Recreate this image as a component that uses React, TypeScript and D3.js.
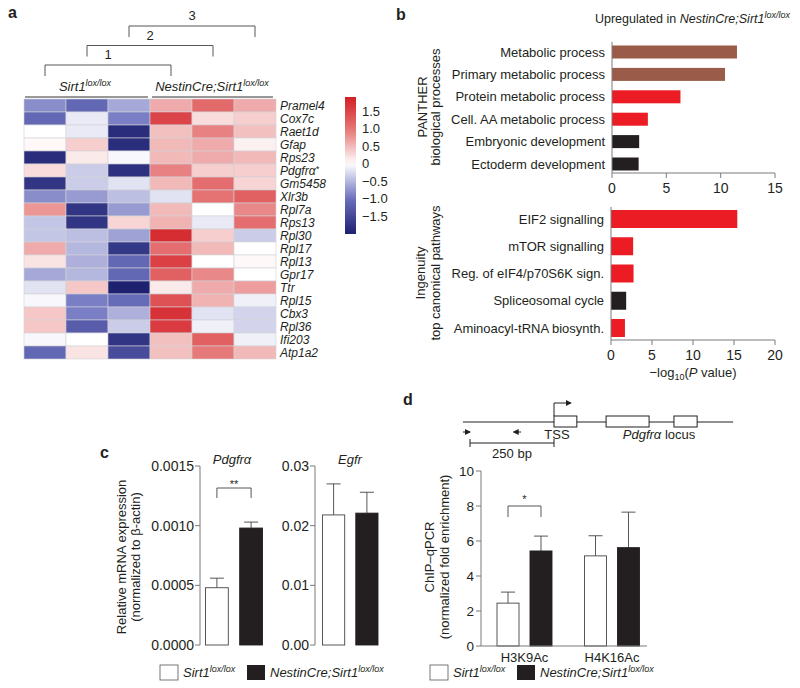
import React from "react";
import * as d3 from "d3";

const FONT = "'Liberation Sans', Arial, Helvetica, sans-serif";
const INK = "#231f20";
const AXIS = "#7a7a7d";

// ---- a: heatmap ----
const samples = ["ctl1", "ctl2", "ctl3", "ko1", "ko2", "ko3"];
const genes = [
  "Pramel4", "Cox7c", "Raet1d", "Gfap", "Rps23", "Pdgfra", "Gm5458", "Xlr3b", "Rpl7a", "Rps13",
  "Rpl30", "Rpl17", "Rpl13", "Gpr17", "Ttr", "Rpl15", "Cbx3", "Rpl36", "Ifi203", "Atp1a2",
];
const heat = [
  [-0.8, -1.1, -0.6, 0.6, 1.1, 0.6],
  [-1.1, -0.15, -0.9, 1.5, 0.25, 0.35],
  [0.0, -0.15, -1.85, 0.45, 0.9, 0.45],
  [0.05, 0.35, -1.85, 0.5, 0.6, 0.1],
  [-1.85, 0.15, -0.05, 0.5, 0.6, 0.5],
  [0.25, -0.35, -1.8, 0.9, 0.35, 0.35],
  [-1.75, -0.35, -0.2, 0.5, 1.05, 0.3],
  [-0.8, -0.7, -0.45, -0.2, 1.0, 1.2],
  [0.75, -1.75, -0.7, 0.5, 0.0, 0.85],
  [-0.4, -1.75, 0.3, 0.55, -0.15, 1.05],
  [-0.4, -0.45, -0.65, 1.75, 0.35, -0.35],
  [0.6, -0.5, -1.7, 1.05, 0.5, 0.0],
  [0.2, -0.55, -1.1, 1.55, 0.0, 0.05],
  [-0.6, -0.5, -1.1, 1.2, 0.85, 0.0],
  [-0.2, 0.4, -2.0, 0.15, 0.6, 0.7],
  [-0.05, -0.9, -1.05, 1.35, 0.55, -0.1],
  [0.4, -0.9, -0.55, 1.7, -0.2, -0.3],
  [0.4, -1.25, -0.35, 1.6, -0.1, -0.3],
  [-0.05, 0.0, -1.75, 0.45, 1.2, -0.1],
  [-1.1, 0.2, -1.45, 0.45, 0.95, 0.5],
];
const scaleTicks = [-1.5, -1, -0.5, 0, 0.5, 1, 1.5];
const clusters = [
  ["ctl1", "ko1", "1"],
  ["ctl2", "ko2", "2"],
  ["ctl3", "ko3", "3"],
];

// ---- b: enrichment ----
const pantherTerms = [
  "Metabolic process", "Primary metabolic process", "Protein metabolic process",
  "Cell. AA metabolic process", "Embryonic development", "Ectoderm development",
];
const pantherValues = [11.5, 10.4, 6.3, 3.3, 2.5, 2.45];
const pantherColors = ["#9a5b48", "#9a5b48", "#ec1c24", "#ec1c24", "#231f20", "#231f20"];
const ipaTerms = [
  "EIF2 signalling", "mTOR signalling", "Reg. of eIF4/p70S6K sign.",
  "Spliceosomal cycle", "Aminoacyl-tRNA biosynth.",
];
const ipaValues = [15.4, 2.7, 2.75, 1.85, 1.7];
const ipaColors = ["#ec1c24", "#ec1c24", "#ec1c24", "#231f20", "#ec1c24"];

// ---- c: qPCR ----
const groups = ["ctrl", "ko"];
const pdgfraMean = [0.00048, 0.00098];
const pdgfraSem = [0.00008, 0.00005];
const egfrMean = [0.0218, 0.0221];
const egfrSem = [0.0052, 0.0035];

// ---- d: ChIP ----
const chipMarks = ["H3K9Ac", "H4K16Ac"];
const chipCtrl = [2.45, 5.15];
const chipCtrlSem = [0.63, 1.15];
const chipKo = [5.43, 5.62];
const chipKoSem = [0.85, 2.03];
const locusExons = [[0, 68], [155, 283], [357, 426]];

const heatColor = d3
  .scaleLinear<string>()
  .domain([-2, -1, 0, 1, 1.9])
  .range(["#1d2170", "#6b70bd", "#ffffff", "#e57373", "#d31f26"])
  .clamp(true);

const minus = (s: string) => s.replace("-", "\u2212");

function Lox({ x, y, anchor = "start", size = 13 }: any) {
  return (
    <text x={x} y={y} textAnchor={anchor} fontSize={size} fontStyle="italic" fill={INK}>
      Sirt1<tspan fontSize={9} dy={-5}>lox/lox</tspan>
    </text>
  );
}
function NestinLox({ x, y, anchor = "start", size = 13 }: any) {
  return (
    <text x={x} y={y} textAnchor={anchor} fontSize={size} fontStyle="italic" fill={INK}>
      NestinCre;Sirt1<tspan fontSize={9} dy={-5}>lox/lox</tspan>
    </text>
  );
}

function Legend({ x, y }: any) {
  return (
    <g>
      <rect x={x} y={y} width={18} height={15} fill="#fff" stroke="#555" strokeWidth={0.8} />
      <Lox x={x + 23} y={y + 12} />
      <rect x={x + 87} y={y} width={18} height={15} fill={INK} />
      <NestinLox x={x + 110} y={y + 12} />
    </g>
  );
}

function Heatmap() {
  const x = d3.scaleBand().domain(samples).range([24, 276]);
  const y = d3.scaleBand().domain(genes).range([99, 359]);
  const bw = x.bandwidth();
  const cy = d3.scaleLinear().domain([-2, 1.9]).range([234, 97]);
  const stops = d3.range(0, 1.0001, 0.05);
  return (
    <g>
      <defs>
        <linearGradient id="cbar" x1="0" y1="1" x2="0" y2="0">
          {stops.map((t) => (
            <stop key={t} offset={t} stopColor={heatColor(-2 + t * 3.9)} />
          ))}
        </linearGradient>
      </defs>
      {heat.map((row, i) =>
        row.map((v, j) => (
          <rect key={`${i}-${j}`} x={x(samples[j])} y={y(genes[i])} width={bw}
            height={y.bandwidth()} fill={heatColor(v)} stroke="#d2d2d8" strokeWidth={0.6} />
        ))
      )}
      {genes.map((g) => (
        <text key={g} x={280} y={(y(g) as number) + y.bandwidth() / 2 + 4.3}
          fontSize={12} fontStyle="italic" fill={INK}>
          {g === "Pdgfra" ? (<>Pdgfrα<tspan fontSize={9} dy={-3}>*</tspan></>) : g}
        </text>
      ))}
      {clusters.map(([a, b, lab], i) => {
        const top = 65 - i * 19.5;
        const xa = (x(a) as number) + bw / 2;
        const xb = (x(b) as number) + bw / 2;
        return (
          <g key={lab}>
            <path d={`M${xa},${top + 11}V${top}H${xb}V${top + 11}`} fill="none" stroke="#444" strokeWidth={0.9} />
            <text x={(xa + xb) / 2} y={top - 6} textAnchor="middle" fontSize={13} fill={INK}>{lab}</text>
          </g>
        );
      })}
      <Lox x={85} y={91} anchor="middle" />
      <NestinLox x={212} y={91} anchor="middle" />
      <line x1={(x("ctl1") as number) + 1} x2={(x("ctl3") as number) + bw - 2} y1={97} y2={97} stroke="#333" strokeWidth={1} />
      <line x1={(x("ko1") as number) + 2} x2={(x("ko3") as number) + bw - 3} y1={97} y2={97} stroke="#333" strokeWidth={1} />
      <rect x={345} y={97} width={11} height={137} fill="url(#cbar)" />
      {scaleTicks.map((t) => (
        <text key={t} x={362} y={cy(t) + 4.5} fontSize={13} fill={INK}>
          {t === 0 ? "0" : minus(d3.format(".1f")(t))}
        </text>
      ))}
    </g>
  );
}

function HBars({ terms, values, colors, x, y, barH, axisTop, axisY, ticks }: any) {
  const x0 = x(0);
  return (
    <g>
      {terms.map((t: string, i: number) => (
        <g key={t}>
          <rect x={x0} y={y(t) - barH / 2} width={x(values[i]) - x0} height={barH} fill={colors[i]} />
          <text x={x0 - 7} y={y(t) + 4.5} textAnchor="end" fontSize={13} fill={INK}>{t}</text>
        </g>
      ))}
      <line x1={x0} x2={x0} y1={axisTop} y2={axisY} stroke={AXIS} strokeWidth={1} />
      <line x1={x0} x2={x.range()[1]} y1={axisY} y2={axisY} stroke={AXIS} strokeWidth={1} />
      {ticks.map((t: number) => (
        <g key={t}>
          <line x1={x(t)} x2={x(t)} y1={axisY} y2={axisY + 5} stroke={AXIS} />
          <text x={x(t)} y={axisY + 20} textAnchor="middle" fontSize={14} fill={INK}>{t}</text>
        </g>
      ))}
    </g>
  );
}

function PanelB() {
  const xP = d3.scaleLinear().domain([0, 15]).range([612, 775]);
  const yP = d3.scalePoint().domain(pantherTerms).range([52, 164]);
  const xI = d3.scaleLinear().domain([0, 20]).range([611, 775]);
  const yI = d3.scalePoint().domain(ipaTerms).range([219, 328]);
  return (
    <g>
      <text x={790} y={23} textAnchor="end" fontSize={12.5} fill={INK}>
        Upregulated in <tspan fontStyle="italic">NestinCre;Sirt1</tspan>
        <tspan fontStyle="italic" fontSize={9} dy={-5}>lox/lox</tspan>
      </text>
      <HBars terms={pantherTerms} values={pantherValues} colors={pantherColors} x={xP} y={yP}
        barH={13} axisTop={42} axisY={173} ticks={xP.ticks(3)} />
      <HBars terms={ipaTerms} values={ipaValues} colors={ipaColors} x={xI} y={yI}
        barH={18} axisTop={207} axisY={340} ticks={xI.ticks(4)} />
      <g fontSize={13} fill={INK} textAnchor="middle">
        <text transform="translate(427,107) rotate(-90)">PANTHER</text>
        <text transform="translate(439.5,107) rotate(-90)">biological processes</text>
        <text transform="translate(425,273) rotate(-90)">Ingenuity</text>
        <text transform="translate(439.5,273) rotate(-90)">top canonical pathways</text>
      </g>
      <text x={693} y={377} textAnchor="middle" fontSize={13} fill={INK}>
        {"\u2212log"}<tspan fontSize={9} dy={3}>10</tspan><tspan dy={-3}>(</tspan>
        <tspan fontStyle="italic">P</tspan>{" value)"}
      </text>
    </g>
  );
}

function VBars({ means, sems, xr, y, axisX, ticks, fmt }: any) {
  const x = d3.scaleBand().domain(groups).range(xr).paddingInner(0.333);
  const bw = x.bandwidth();
  return (
    <g>
      {groups.map((g, i) => {
        const cx = (x(g) as number) + bw / 2;
        const top = y(means[i]);
        const et = y(means[i] + sems[i]);
        return (
          <g key={g}>
            <line x1={cx} x2={cx} y1={top} y2={et} stroke="#444" strokeWidth={0.9} />
            <line x1={cx - 7} x2={cx + 7} y1={et} y2={et} stroke="#444" strokeWidth={0.9} />
            <rect x={x(g)} y={top} width={bw} height={y(0) - top}
              fill={i === 0 ? "#fff" : INK} stroke={i === 0 ? "#444" : INK} strokeWidth={0.9} />
          </g>
        );
      })}
      <line x1={axisX} x2={axisX} y1={y.range()[1]} y2={y.range()[0]} stroke={AXIS} />
      {ticks.map((t: number) => (
        <g key={t}>
          <line x1={axisX - 5} x2={axisX} y1={y(t)} y2={y(t)} stroke={AXIS} />
          <text x={axisX - 6} y={y(t) + 5} textAnchor="end" fontSize={14} fill={INK}>{fmt(t)}</text>
        </g>
      ))}
    </g>
  );
}

function PanelC() {
  const yA = d3.scaleLinear().domain([0, 0.0015]).range([645, 466]);
  const yB = d3.scaleLinear().domain([0, 0.03]).range([645, 466]);
  const xA = d3.scaleBand().domain(groups).range([205.5, 262.5]).paddingInner(0.333);
  const ca = (xA("ctrl") as number) + xA.bandwidth() / 2;
  const cb = (xA("ko") as number) + xA.bandwidth() / 2;
  return (
    <g>
      <VBars means={pdgfraMean} sems={pdgfraSem} xr={[205.5, 262.5]} y={yA} axisX={200}
        ticks={yA.ticks(3)} fmt={d3.format(".4f")} />
      <VBars means={egfrMean} sems={egfrSem} xr={[322.5, 378]} y={yB} axisX={315}
        ticks={yB.ticks(3)} fmt={d3.format(".2f")} />
      <path d={`M${ca},498V488H${cb}V498`} fill="none" stroke="#444" strokeWidth={0.9} />
      <text x={(ca + cb) / 2} y={488} textAnchor="middle" fontSize={11} fill={INK}>**</text>
      <text x={232} y={464} textAnchor="middle" fontSize={13} fontStyle="italic" fill={INK}>Pdgfrα</text>
      <text x={350} y={464} textAnchor="middle" fontSize={13} fontStyle="italic" fill={INK}>Egfr</text>
      <g fontSize={13} fill={INK} textAnchor="middle">
        <text transform="translate(126,557) rotate(-90)">Relative mRNA expression</text>
        <text transform="translate(140,557) rotate(-90)">(normalized to β-actin)</text>
      </g>
      <Legend x={160} y={665} />
    </g>
  );
}

function PanelD() {
  const y = d3.scaleLinear().domain([0, 10]).range([646, 471]);
  const gx = d3.scalePoint().domain(chipMarks).range([524.5, 612]);
  const sub = d3.scaleBand().domain(groups).range([-27.5, 27.5]).paddingInner(0.333);
  const bw = sub.bandwidth();
  const bp = d3.scaleLinear().domain([0, 250]).range([554, 638]);
  const series = [
    { g: "ctrl", m: chipCtrl, s: chipCtrlSem },
    { g: "ko", m: chipKo, s: chipKoSem },
  ];
  const c0 = (gx("H3K9Ac") as number) + (sub("ctrl") as number) + bw / 2;
  const c1 = (gx("H3K9Ac") as number) + (sub("ko") as number) + bw / 2;
  return (
    <g>
      <defs>
        <marker id="ah" viewBox="0 0 6 6" refX="5" refY="3" markerWidth="6" markerHeight="6" orient="auto">
          <path d="M0,0L6,3L0,6z" fill={INK} />
        </marker>
      </defs>
      {/* locus schematic */}
      <line x1={bp(-271)} x2={bp(533)} y1={422} y2={422} stroke={INK} strokeWidth={1} />
      {locusExons.map(([a, b]) => (
        <rect key={a} x={bp(a)} y={416} width={bp(b) - bp(a)} height={11} fill="#fff" stroke={INK} strokeWidth={1} />
      ))}
      <path d={`M${bp(0)},416V403H${bp(50)}`} fill="none" stroke={INK} strokeWidth={1} markerEnd="url(#ah)" />
      <line x1={bp(-271)} x2={bp(-250)} y1={432} y2={432} stroke={INK} markerEnd="url(#ah)" />
      <line x1={bp(-98)} x2={bp(-120)} y1={432} y2={432} stroke={INK} markerEnd="url(#ah)" />
      <path d={`M${bp(-250)},439V447M${bp(-250)},443H${bp(0)}M${bp(0)},439V447`} stroke={INK} fill="none" />
      <text x={bp(-125)} y={458} textAnchor="middle" fontSize={13} fill={INK}>250 bp</text>
      <text x={557} y={439} textAnchor="middle" fontSize={13} fill={INK}>TSS</text>
      <text x={659} y={439} textAnchor="middle" fontSize={13} fill={INK}>
        <tspan fontStyle="italic">Pdgfrα</tspan> locus
      </text>
      {/* bars */}
      {chipMarks.map((mk, i) =>
        series.map(({ g, m, s }, k) => {
          const x0 = (gx(mk) as number) + (sub(g) as number);
          const cx = x0 + bw / 2;
          const top = y(m[i]);
          const et = y(m[i] + s[i]);
          return (
            <g key={mk + g}>
              <line x1={cx} x2={cx} y1={top} y2={et} stroke="#444" strokeWidth={0.9} />
              <line x1={cx - 7} x2={cx + 7} y1={et} y2={et} stroke="#444" strokeWidth={0.9} />
              <rect x={x0} y={top} width={bw} height={y(0) - top}
                fill={k === 0 ? "#fff" : INK} stroke={k === 0 ? "#444" : INK} strokeWidth={0.9} />
            </g>
          );
        })
      )}
      <line x1={481} x2={481} y1={471} y2={646} stroke={AXIS} />
      <line x1={481} x2={647} y1={646} y2={646} stroke={AXIS} />
      {y.ticks(5).map((t) => (
        <g key={t}>
          <line x1={476} x2={481} y1={y(t)} y2={y(t)} stroke={AXIS} />
          <text x={474} y={y(t) + 5} textAnchor="end" fontSize={13.5} fill={INK}>{t}</text>
        </g>
      ))}
      {chipMarks.map((mk) => (
        <text key={mk} x={gx(mk)} y={662} textAnchor="middle" fontSize={13} fill={INK}>{mk}</text>
      ))}
      <path d={`M${c0},517V${y(8)}H${c1}V517`} fill="none" stroke="#444" strokeWidth={0.9} />
      <text x={(c0 + c1) / 2} y={503} textAnchor="middle" fontSize={11} fill={INK}>*</text>
      <g fontSize={13} fill={INK} textAnchor="middle">
        <text transform="translate(434,557) rotate(-90)">ChIP–qPCR</text>
        <text transform="translate(449,557) rotate(-90)">(normalized fold enrichment)</text>
      </g>
      <Legend x={430} y={665} />
    </g>
  );
}

export default function App() {
  return (
    <svg width={800} height={688} style={{ position: "absolute", left: 0, top: 0, background: "#fff" }}
      fontFamily={FONT}>
      <g fontWeight="bold" fontSize={16} fill={INK}>
        <text x={8} y={18}>a</text>
        <text x={396} y={20}>b</text>
        <text x={100} y={458}>c</text>
        <text x={403} y={405}>d</text>
      </g>
      <Heatmap />
      <PanelB />
      <PanelC />
      <PanelD />
    </svg>
  );
}
